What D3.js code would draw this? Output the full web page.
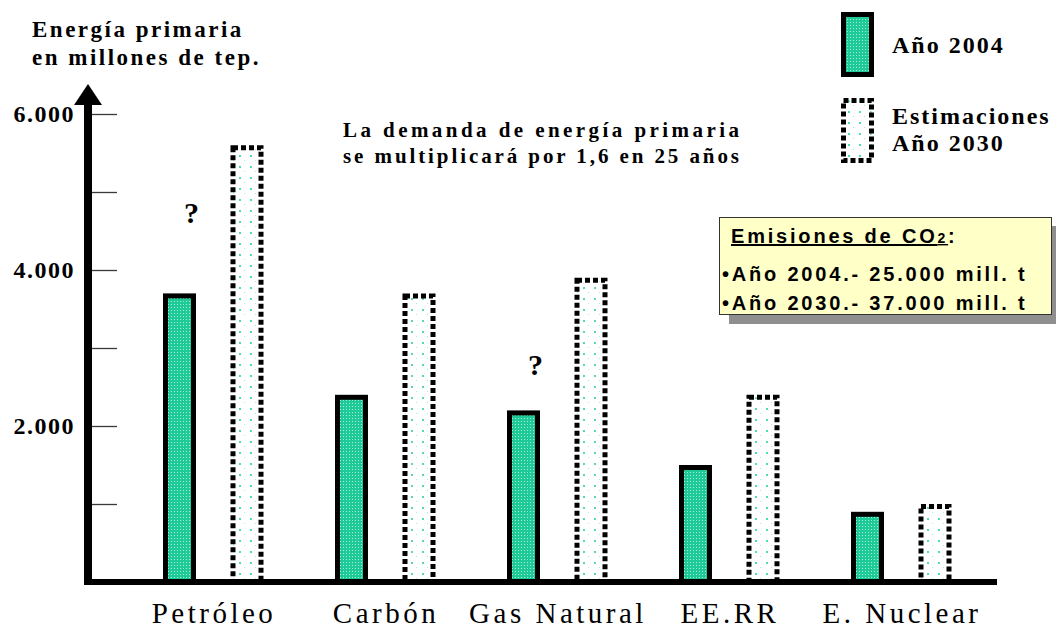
<!DOCTYPE html>
<html lang="es">
<head>
<meta charset="utf-8">
<title>Energía primaria</title>
<script src="https://cdn.jsdelivr.net/npm/d3@7"></script>
<style>
  html, body { margin: 0; padding: 0; background: #ffffff; }
  svg { display: block; }
</style>
</head>
<body>
<svg id="chart" width="1056" height="629"></svg>
<script>
// Primary energy demand by source (million toe)
const categories = ["Petróleo", "Carbón", "Gas Natural", "EE.RR", "E. Nuclear"];
const values2004 = [3700, 2400, 2200, 1500, 900];
const values2030 = [5600, 3700, 3900, 2400, 1000];
const seriesKeys = ["2004", "2030"];
const yTicks = [1000, 2000, 3000, 4000, 5000, 6000];
const yTickLabels = ["", "2.000", "", "4.000", "", "6.000"];
const titleLines = ["Energía primaria", "en millones de tep."];
const noteLines = ["La demanda de energía primaria", "se multiplicará por 1,6 en 25 años"];
const legendLabels = [["Año 2004"], ["Estimaciones", "Año 2030"]];
const co2Title = "Emisiones de CO";
const co2Lines = ["•Año 2004.- 25.000 mill. t", "•Año 2030.- 37.000 mill. t"];
const questionMarks = [{ cat: "Petróleo", at: 4600 }, { cat: "Gas Natural", at: 2650 }];

const SERIF = "'Times New Roman', 'Liberation Serif', Tinos, Times, serif";
const SANS = "Arial, 'Liberation Sans', Arimo, Helvetica, sans-serif";

const table = categories.map((c, i) => ({ cat: c, "2004": values2004[i], "2030": values2030[i] }));

const svg = d3.select("#chart");
const defs = svg.append("defs");

// Dense dotted teal fill for the 2004 bars
const p1 = defs.append("pattern").attr("id", "fill2004")
  .attr("patternUnits", "userSpaceOnUse").attr("width", 3).attr("height", 3);
p1.append("rect").attr("width", 3).attr("height", 3).attr("fill", "#1dca98");
p1.append("rect").attr("x", 1).attr("y", 1).attr("width", 1).attr("height", 1).attr("fill", "#a6ecd4");

// Sparse dotted fill for the 2030 estimates
const p2 = defs.append("pattern").attr("id", "fill2030")
  .attr("patternUnits", "userSpaceOnUse").attr("width", 11).attr("height", 11);
p2.append("rect").attr("width", 11).attr("height", 11).attr("fill", "#ffffff");
p2.append("rect").attr("x", 1).attr("y", 1).attr("width", 2).attr("height", 2).attr("fill", "#4fdcb4");
p2.append("rect").attr("x", 6).attr("y", 6).attr("width", 1).attr("height", 1).attr("fill", "#a9ecd8");

// Scales
const x = d3.scaleBand().domain(categories).range([128, 988]).padding(0);
const xs = d3.scaleBand().domain(seriesKeys).range([35, 135.5]).paddingInner(0.511).paddingOuter(0);
const y = d3.scaleLinear().domain([0, 6000]).range([582, 114]);

const seriesStyle = {
  "2004": { fill: "url(#fill2004)", dash: null },
  "2030": { fill: "url(#fill2030)", dash: "5 3" }
};
const SW = 5;

// Bars
const groups = svg.append("g").selectAll("g").data(table).join("g")
  .attr("transform", d => `translate(${x(d.cat)},0)`);
groups.selectAll("rect").data(d => seriesKeys.map(k => ({ key: k, value: d[k] }))).join("rect")
  .attr("x", d => xs(d.key) + SW / 2)
  .attr("width", xs.bandwidth() - SW)
  .attr("y", d => y(d.value) + SW / 2)
  .attr("height", d => y(0) - y(d.value) - SW / 2)
  .attr("fill", d => seriesStyle[d.key].fill)
  .attr("stroke", "#000")
  .attr("stroke-width", SW)
  .attr("stroke-dasharray", d => seriesStyle[d.key].dash);

// Y axis ticks (drawn inward) with labels on the outside
const fmtIdx = new Map(yTicks.map((t, i) => [t, yTickLabels[i]]));
const yAxis = d3.axisLeft(y).tickValues(yTicks).tickSizeInner(-25).tickSizeOuter(0)
  .tickPadding(17).tickFormat(t => fmtIdx.get(t));
const gy = svg.append("g").attr("transform", "translate(92,0)").call(yAxis);
gy.attr("font-family", SERIF).attr("font-size", 24);
gy.select(".domain").remove();
gy.selectAll(".tick line").attr("stroke", "#3a3a3a").attr("stroke-width", 1.3);
gy.selectAll(".tick text")
  .style("font-family", SERIF)
  .attr("font-weight", "bold").attr("fill", "#000")
  .attr("letter-spacing", 1.5)
  .attr("dy", "0.32em");

// Axis lines with arrow head
svg.append("line").attr("x1", 88).attr("x2", 88).attr("y1", 102).attr("y2", 584)
  .attr("stroke", "#000").attr("stroke-width", 8);
svg.append("path").attr("d", "M88,84 L102,105 L74,105 Z").attr("fill", "#000");
svg.append("line").attr("x1", 84).attr("x2", 997).attr("y1", y(0)).attr("y2", y(0))
  .attr("stroke", "#000").attr("stroke-width", 6);

// Category labels
svg.append("g").selectAll("text").data(categories).join("text")
  .style("font-family", SERIF)
  .attr("x", d => x(d) + x.bandwidth() / 2)
  .attr("y", 623)
  .attr("text-anchor", "middle")
  .attr("font-size", 29).attr("letter-spacing", 3.5).attr("fill", "#000")
  .text(d => d);

// Axis title
svg.append("text").style("font-family", SERIF)
  .attr("font-size", 23).attr("font-weight", "bold").attr("letter-spacing", 2.5)
  .selectAll("tspan").data(titleLines).join("tspan")
  .attr("x", 32).attr("y", (d, i) => 37 + i * 28).text(d => d);

// Headline note, both lines justified to the same width
svg.append("g").selectAll("text").data(noteLines).join("text")
  .style("font-family", SERIF)
  .attr("font-size", 21).attr("font-weight", "bold")
  .attr("x", 343).attr("y", (d, i) => 137 + i * 26)
  .attr("textLength", 396).attr("lengthAdjust", "spacing")
  .text(d => d);

// Question marks
svg.append("g").selectAll("text").data(questionMarks).join("text")
  .style("font-family", SERIF)
  .attr("x", d => x(d.cat) + xs("2004") + xs.bandwidth() / 2 + 12)
  .attr("y", d => y(d.at))
  .attr("text-anchor", "middle")
  .attr("font-size", 30).attr("font-weight", "bold")
  .text("?");

// Legend
const legend = svg.append("g");
const legendTops = [12, 98];
seriesKeys.forEach((k, i) => {
  legend.append("rect")
    .attr("x", 841 + SW / 2).attr("y", legendTops[i] + SW / 2)
    .attr("width", 33 - SW).attr("height", 65 - SW)
    .attr("fill", seriesStyle[k].fill).attr("stroke", "#000").attr("stroke-width", SW)
    .attr("stroke-dasharray", seriesStyle[k].dash);
  legend.append("text").style("font-family", SERIF)
    .attr("font-size", 24).attr("font-weight", "bold").attr("letter-spacing", 2)
    .selectAll("tspan").data(legendLabels[i]).join("tspan")
    .attr("x", 892)
    .attr("y", (d, j) => (i === 0 ? 53 : 124) + j * 27)
    .text(d => d);
});

// CO2 emissions box with drop shadow
const box = svg.append("g");
box.append("rect").attr("x", 729).attr("y", 226).attr("width", 333).attr("height", 98).attr("fill", "#8f8f8f");
box.append("rect").attr("x", 719.5).attr("y", 217.5).attr("width", 332).attr("height", 97)
  .attr("fill", "#ffffc8").attr("stroke", "#333").attr("stroke-width", 1);
const head = box.append("text").style("font-family", SANS)
  .attr("x", 731).attr("y", 243)
  .attr("font-size", 20).attr("font-weight", "bold").attr("letter-spacing", 2.8);
head.append("tspan").attr("text-decoration", "underline").text(co2Title);
head.append("tspan").attr("text-decoration", "underline").attr("font-size", 14).text("2");
head.append("tspan").text(":");
box.append("text").style("font-family", SANS)
  .attr("font-size", 20).attr("font-weight", "bold").attr("letter-spacing", 2.8)
  .selectAll("tspan").data(co2Lines).join("tspan")
  .attr("x", 722).attr("y", (d, i) => 281 + i * 29).text(d => d);
</script>
</body>
</html>
